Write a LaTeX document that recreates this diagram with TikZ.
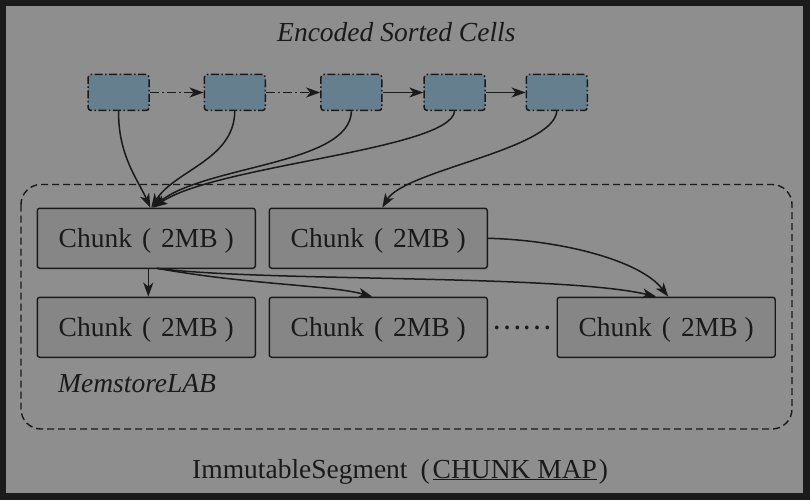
\documentclass[tikz,border=0pt]{standalone}
\usepackage{fontspec}
\setmainfont{Liberation Serif}
\newfontfamily\cjk{Noto Sans CJK SC}
\usetikzlibrary{arrows.meta}
\definecolor{bgdark}{HTML}{1B1B1B}
\definecolor{bggray}{HTML}{8E8E8E}
\definecolor{chunkfill}{HTML}{868686}
\definecolor{cellfill}{HTML}{667F8E}
\definecolor{ink}{HTML}{1A1A1A}
\newcommand{\chunktext}{Chunk\hspace{10pt}(\hspace{10pt}2MB\hspace{7pt})}
\tikzset{
  cell/.style={draw=ink, fill=cellfill, rounded corners=3pt, line width=1.5pt,
    dash pattern=on 8pt off 2.5pt on 1.5pt off 2.5pt,
    minimum width=61pt, minimum height=36pt, inner sep=0pt},
  chunk/.style={draw=ink, fill=chunkfill, rounded corners=2.5pt, line width=1.4pt,
    minimum width=218pt, minimum height=60pt, inner sep=0pt,
    text height=18pt, text depth=0pt, text=ink,
    font=\fontsize{27.5}{30}\selectfont},
  lbl/.style={inner sep=0pt, text=ink, font=\fontsize{27.5}{30}\selectfont},
  conn/.style={draw=ink, line width=1.5pt, -{Stealth[length=14pt,width=10pt,inset=4pt]}},
  conndd/.style={conn, dash pattern=on 9pt off 3pt on 2pt off 3pt},
  region/.style={draw=ink, line width=1.4pt, dash pattern=on 7pt off 4pt, rounded corners=20pt}
}
\begin{document}
\begin{tikzpicture}[x=1pt,y=-1pt]
\fill[bgdark] (0,0) rectangle (810,500);
\useasboundingbox (0,0) rectangle (810,500);
\fill[bggray] (6,6) rectangle (803,493);

% title
\node[lbl, anchor=base west, font=\fontsize{27.5}{30}\selectfont\itshape] (title) at (277,41.7) {Encoded Sorted Cells};

% dashed region
\draw[region] (21,184.5) rectangle (792,429);

% cells
\node[cell] (c1) at (118.6,92.5) {};
\node[cell] (c2) at (234.8,92.5) {};
\node[cell] (c3) at (351.4,92.5) {};
\node[cell] (c4) at (454.6,92.5) {};
\node[cell] (c5) at (556.8,92.5) {};

\draw[conndd] (c1) -- (c2);
\draw[conndd] (c2) -- (c3);
\draw[conn] (c3) -- (c4);
\draw[conn] (c4) -- (c5);

% chunks
\node[chunk] (A) at (146.3,238.3) {\chunktext};
\node[chunk] (B) at (378.3,238.3) {\chunktext};
\node[chunk] (C) at (146.3,327.3) {\chunktext};
\node[chunk] (D) at (378.3,327.3) {\chunktext};
\node[chunk] (E) at (666.2,327.3) {\chunktext};

\node[lbl, font=\fontsize{27.5}{30}\selectfont\cjk] (dots) at (522,327.5) {……};

% cell -> chunk curves
\draw[conn] (c1.south) .. controls (118,155) and (138,180) .. ([xshift=4pt]A.north);
\draw[conn] (c2.south) .. controls (234,160) and (175,170) .. ([xshift=5pt]A.north);
\draw[conn] (c3.south) .. controls (350,165) and (205,165) .. ([xshift=6pt]A.north);
\draw[conn] (c4.south) .. controls (450,150) and (215,165) .. ([xshift=7pt]A.north);
\draw[conn] (c5.south) .. controls (553,150) and (405,170) .. ([xshift=4pt]B.north);

% chunk -> chunk
\coordinate (Ab) at (157,268.3);
\draw[conn] ([xshift=2pt]A.south) -- ([xshift=2pt]C.north);
\draw[conn] (Ab) .. controls (250,285) and (330,285) .. ([xshift=-6pt]D.north);
\draw[conn] (Ab) .. controls (260,282) and (560,274) .. ([xshift=-10pt]E.north);
\draw[conn] (B.east) .. controls (560,240) and (640,260) .. ([xshift=2pt]E.north);

% labels
\node[lbl, anchor=base west, font=\fontsize{27.5}{30}\selectfont\itshape] (mlab) at (58,392.5) {MemstoreLAB};
\node[lbl, anchor=base west] (seg) at (192,478) {ImmutableSegment\hspace{13pt}(\hspace{3pt}\underline{CHUNK MAP}\hspace{2pt})};
\end{tikzpicture}
\end{document}
